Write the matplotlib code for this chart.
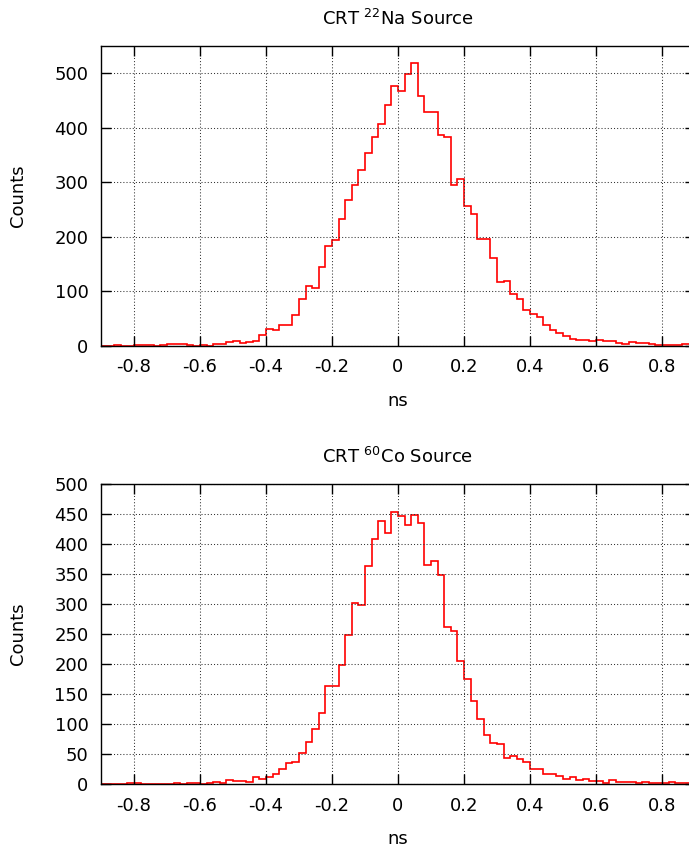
import numpy as np
import matplotlib
matplotlib.use("Agg")
import matplotlib.pyplot as plt
from matplotlib.ticker import FormatStrFormatter

# histogram bins: 0.02 ns wide, from -0.9 ns to 0.9 ns
bin_start = -0.9
bin_width = 0.02

# CRT 22Na source counts per bin
na_counts = [
    0, 0, 1, 0, 0, 1, 2, 1, 0, 2, 3, 3, 3, 1, 0, 2, 0, 3, 3, 6, 9, 5, 7, 9, 20,
    31, 29, 38, 38, 56, 85, 109, 106, 145, 183, 194, 232, 268, 294, 322,
    354, 382, 407, 442, 477,
    467, 498, 519, 458, 428, 428, 387, 383, 294, 306, 257, 242, 196, 196, 160,
    117, 119, 95, 85, 65, 58, 52, 38, 29, 23, 17, 13, 11, 11, 8,
    10, 8, 8, 4, 3, 6, 4, 5, 3, 2, 1, 1, 1, 3, 3,
]

# CRT 60Co source counts per bin
co_counts = [
    0, 0, 0, 0, 2, 2, 0, 0, 0, 0, 0, 2, 0, 2, 2, 0, 1, 4, 2, 6, 5, 5, 4, 12, 8,
    12, 16,
    25, 35, 36, 52, 70, 92, 119, 163, 163, 198, 248, 302, 298, 364, 408,
    439, 419, 454,
    447, 432, 448, 436, 365, 372, 348, 262, 256, 206, 176, 138, 108, 81, 69,
    66, 43, 46, 41, 37, 25, 25, 16, 17, 14, 9, 12, 6, 9, 5,
    5, 1, 6, 3, 4, 3, 1, 3, 1, 1, 2, 3, 1, 1, 1,
]

x_ticks = [-0.8, -0.6, -0.4, -0.2, 0, 0.2, 0.4, 0.6, 0.8]

plt.rcParams["axes.unicode_minus"] = False
plt.rcParams["font.family"] = "DejaVu Sans"
plt.rcParams["font.size"] = 13


def draw_panel(ax, counts, title, ymax, ystep):
    edges = bin_start + bin_width * np.arange(len(counts) + 1)
    ax.stairs(counts, edges, color="red", lw=1.2, baseline=None)
    ax.set_xlim(-0.9, 0.9)
    ax.set_ylim(0, ymax)
    ax.set_xticks(x_ticks)
    ax.set_yticks(np.arange(0, ymax + 1, ystep))
    ax.xaxis.set_major_formatter(FormatStrFormatter("%g"))
    ax.grid(True, color="#333333", linestyle=(0, (1, 2)), lw=0.75)
    ax.tick_params(direction="in", length=7, width=1, top=True, right=True,
                   pad=9, labelsize=13)
    for s in ax.spines.values():
        s.set_linewidth(1.0)
    ax.set_title(title, fontsize=13, pad=15)
    ax.set_xlabel("ns", fontsize=13)
    ax.set_ylabel("Counts", fontsize=13)
    ax.xaxis.set_label_coords(0.5, -0.155)
    ax.yaxis.set_label_coords(-0.125, 0.5)


fig = plt.figure(figsize=(6.89, 8.52), dpi=100)
ax1 = fig.add_axes([0.1466, 0.5943, 0.862, 0.3518])
ax2 = fig.add_axes([0.1466, 0.0798, 0.862, 0.3518])

draw_panel(ax1, na_counts, "CRT $^{22}$Na Source", 550, 100)
draw_panel(ax2, co_counts, "CRT $^{60}$Co Source", 500, 50)

fig.savefig("out.png", dpi=100)
